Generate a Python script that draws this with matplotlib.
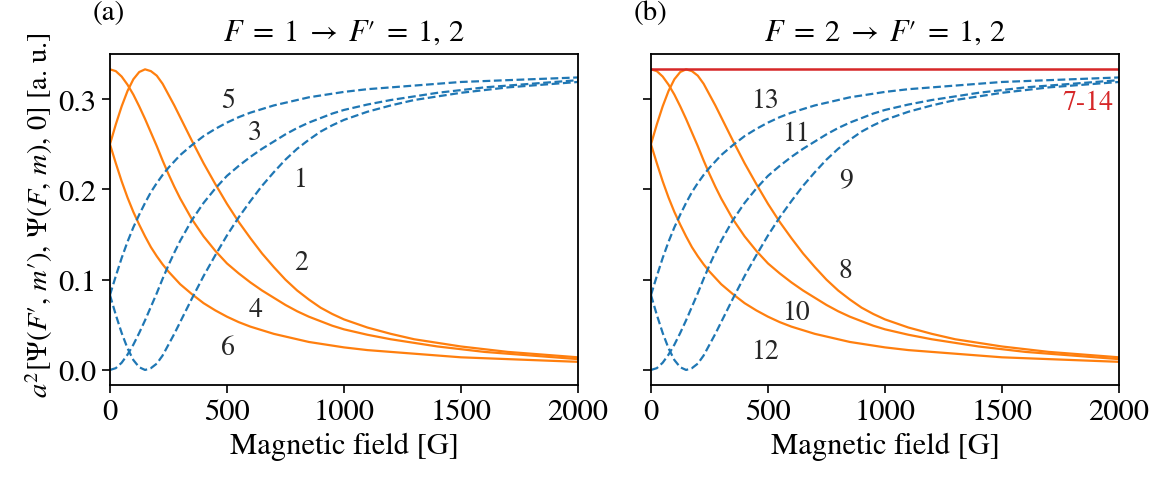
import matplotlib
matplotlib.use("Agg")
import matplotlib.pyplot as plt

plt.rcParams['font.family'] = ['STIXGeneral', 'DejaVu Serif']
plt.rcParams['mathtext.fontset'] = 'stix'

# Magnetic field grid [G]
field = [0, 25, 50, 75, 100, 125, 150, 175, 200, 225, 250, 275, 300, 350, 400,
         450, 500, 550, 600, 650, 700, 750, 800, 850, 900, 950, 1000, 1100, 1200,
         1300, 1400, 1500, 1600, 1700, 1800, 1900, 2000]

# Orange (solid) curves
curve_2 = [0.250, 0.272, 0.292, 0.309, 0.322, 0.330, 0.333, 0.331, 0.326, 0.317,
           0.305, 0.293, 0.280, 0.254, 0.229, 0.206, 0.184, 0.164, 0.146, 0.129,
           0.114, 0.100, 0.088, 0.078, 0.069, 0.062, 0.056, 0.047, 0.040, 0.034,
           0.030, 0.026, 0.023, 0.020, 0.018, 0.016, 0.014]
curve_4 = [0.333, 0.331, 0.325, 0.316, 0.305, 0.292, 0.278, 0.263, 0.248, 0.232,
           0.217, 0.203, 0.190, 0.167, 0.148, 0.132, 0.118, 0.107, 0.097, 0.088,
           0.080, 0.072, 0.065, 0.059, 0.054, 0.049, 0.045, 0.039, 0.034, 0.030,
           0.026, 0.023, 0.020, 0.018, 0.016, 0.014, 0.012]
curve_6 = [0.250, 0.229, 0.209, 0.191, 0.175, 0.161, 0.148, 0.136, 0.126, 0.117,
           0.109, 0.102, 0.095, 0.084, 0.074, 0.066, 0.059, 0.053, 0.048, 0.044,
           0.040, 0.037, 0.034, 0.031, 0.029, 0.027, 0.025, 0.022, 0.020, 0.018,
           0.016, 0.014, 0.013, 0.012, 0.011, 0.010, 0.009]
# Blue (dashed) curves
curve_1 = [0.083, 0.061, 0.041, 0.024, 0.011, 0.003, 0.000, 0.002, 0.007, 0.016,
           0.028, 0.040, 0.053, 0.079, 0.104, 0.127, 0.149, 0.169, 0.187, 0.204,
           0.219, 0.233, 0.245, 0.255, 0.264, 0.271, 0.277, 0.286, 0.293, 0.299,
           0.303, 0.307, 0.310, 0.313, 0.315, 0.317, 0.319]
curve_3 = [0.000, 0.002, 0.008, 0.017, 0.028, 0.041, 0.055, 0.070, 0.085, 0.101,
           0.116, 0.130, 0.143, 0.166, 0.185, 0.201, 0.215, 0.226, 0.236, 0.245,
           0.253, 0.261, 0.268, 0.274, 0.279, 0.284, 0.288, 0.294, 0.299, 0.303,
           0.307, 0.310, 0.313, 0.315, 0.317, 0.319, 0.321]
curve_5 = [0.083, 0.104, 0.124, 0.142, 0.158, 0.172, 0.185, 0.197, 0.207, 0.216,
           0.224, 0.231, 0.238, 0.249, 0.259, 0.267, 0.274, 0.280, 0.285, 0.289,
           0.293, 0.296, 0.299, 0.302, 0.304, 0.306, 0.308, 0.311, 0.313, 0.315,
           0.317, 0.319, 0.320, 0.321, 0.322, 0.323, 0.324]
# Stretched transitions 7-14 (constant)
red_field = [0, 2000]
red_value = [1 / 3, 1 / 3]

# Curve label positions (field, value) and texts
labels_a = ['5', '3', '1', '2', '4', '6']
labels_b = ['13', '11', '9', '8', '10', '12']
label_x_a = [503, 620, 816, 816, 623, 503]
label_y_a = [0.298, 0.263, 0.211, 0.119, 0.0675, 0.025]
label_x_b = [491, 623, 832, 832, 623, 491]
label_y_b = [0.298, 0.262, 0.211, 0.110, 0.064, 0.020]

titles = [r"$F\;=\;1\;\rightarrow\;F′\;=\;1,\,2$",
          r"$F\;=\;2\;\rightarrow\;F′\;=\;1,\,2$"]
panel_tags = ['(a)', '(b)']

orange = '#ff7f0e'
blue = '#1f77b4'
red = '#d62728'
fs = 22

fig = plt.figure(figsize=(11.66, 4.81), dpi=100)
ax1 = fig.add_axes([0.0943, 0.1975, 0.4014, 0.6882])
ax2 = fig.add_axes([0.5583, 0.1975, 0.4014, 0.6882], sharey=ax1)

for ax, labs, lx, ly, title, tag in [(ax1, labels_a, label_x_a, label_y_a, titles[0], panel_tags[0]),
                                     (ax2, labels_b, label_x_b, label_y_b, titles[1], panel_tags[1])]:
    for c in (curve_2, curve_4, curve_6):
        ax.plot(field, c, color=orange, lw=1.6, ls='-')
    for c in (curve_1, curve_3, curve_5):
        ax.plot(field, c, color=blue, lw=1.6, ls='--', dashes=(3.5, 1.6))
    for t, x, y in zip(labs, lx, ly):
        ax.text(x, y, t, fontsize=20, ha='center', va='center', color='#262626')
    ax.set_xlim(0, 2000)
    ax.set_xticks([0, 500, 1000, 1500, 2000])
    ax.set_xlabel('Magnetic field [G]', fontsize=fs, labelpad=4)
    ax.set_title(title, fontsize=fs, pad=10)
    ax.text(-0.037, 1.125, tag, transform=ax.transAxes, fontsize=21,
            ha='left', va='center')
    ax.tick_params(labelsize=fs, length=6, width=1.2, direction='out')
    for s in ax.spines.values():
        s.set_linewidth(1.3)

ax2.plot(red_field, red_value, color=red, lw=1.8)
ax2.text(1869, 0.296, '7-14', color=red, fontsize=20, ha='center', va='center')

ax1.set_yticks([0.0, 0.1, 0.2, 0.3])
ax1.set_yticklabels(['0.0', '0.1', '0.2', '0.3'])
plt.setp(ax2.get_yticklabels(), visible=False)
ax1.set_ylabel(r"$a^2[\Psi(F′,\, m′),\, \Psi(F,\, m),\, 0]$ [a. u.]", fontsize=20.5,
               va='center')
ax1.yaxis.set_label_coords(-0.152, 0.515)

fig.savefig('out.png', dpi=100)
